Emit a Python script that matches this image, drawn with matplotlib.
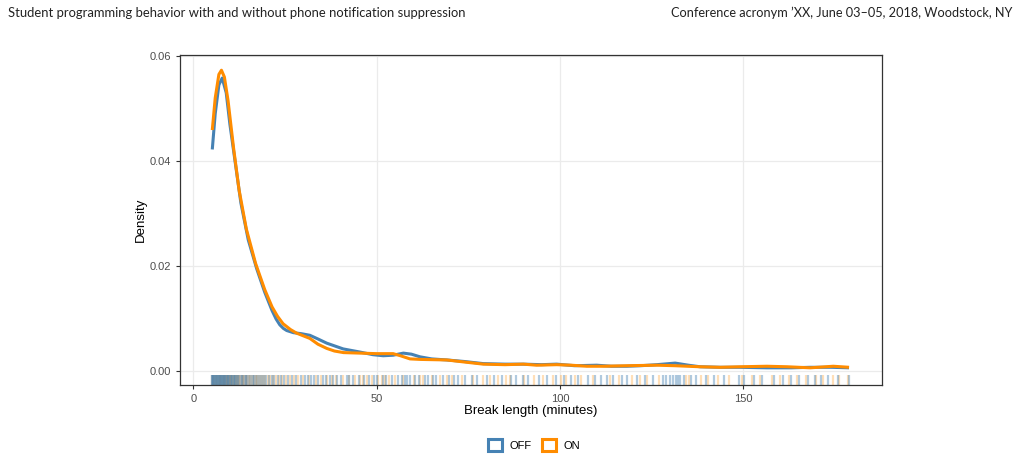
#Density of break lengths with and without phone notification suppression.
import matplotlib
matplotlib.use('Agg')
import matplotlib.pyplot as plt
import matplotlib.transforms as mtransforms
from matplotlib.patches import Patch


# density curves (minutes, density)
off_x = [5.2, 6.0, 7.0, 7.9, 9.0, 10.0, 11.4, 13.0, 15.0, 17.3, 19.5, 21.5, 22.6, 23.6, 24.6,
         25.5, 27.3, 29.5, 31.8, 34.0, 36.4, 40.9, 45.5, 49.0, 51.8, 54.5, 57.3, 59.5, 61.8,
         65.0, 69.1, 74.0, 79.1, 85.0, 90.0, 95.0, 99.1, 104.0, 110.0, 114.0, 118.2, 122.0,
         126.4, 131.4, 135.0, 138.2, 143.7, 149.0, 156.4, 163.0, 168.2, 174.0, 178.8]
off_y = [0.0422, 0.0490, 0.0545, 0.0558, 0.0530, 0.0470, 0.0400, 0.0320, 0.0250, 0.0195,
         0.0150, 0.0115, 0.0099, 0.0088, 0.0081, 0.0077, 0.0073, 0.0071, 0.0068, 0.0061,
         0.0053, 0.0042, 0.0036, 0.0031, 0.0029, 0.0030, 0.0034, 0.0032, 0.0027, 0.0023,
         0.0021, 0.0018, 0.0014, 0.0013, 0.0013, 0.0012, 0.0013, 0.0010, 0.0011, 0.0009,
         0.0009, 0.0010, 0.0012, 0.0015, 0.0011, 0.0008, 0.0007, 0.0007, 0.0006, 0.0006,
         0.0007, 0.0007, 0.0006]

on_x = [5.2, 6.0, 7.0, 7.7, 8.5, 9.5, 11.0, 12.5, 14.5, 17.0, 19.5, 21.5, 23.0, 24.5, 26.5,
        28.2, 31.8, 34.0, 36.4, 38.5, 41.0, 45.5, 50.0, 54.5, 56.5, 59.1, 62.0, 69.1, 74.0,
        79.1, 85.0, 90.0, 93.6, 99.1, 103.0, 107.3, 112.0, 118.2, 126.4, 131.4, 138.2,
        143.7, 149.0, 156.4, 162.0, 168.2, 174.5, 178.8]
on_y = [0.0459, 0.0520, 0.0565, 0.0573, 0.0560, 0.0515, 0.0425, 0.0345, 0.0270, 0.0205,
        0.0155, 0.0122, 0.0104, 0.0090, 0.0079, 0.0072, 0.0062, 0.0051, 0.0043, 0.0038,
        0.0035, 0.0034, 0.0033, 0.0033, 0.0029, 0.0023, 0.0022, 0.0021, 0.0017, 0.0013,
        0.0012, 0.0013, 0.0011, 0.0012, 0.0011, 0.0009, 0.0009, 0.0010, 0.0011, 0.0010,
        0.0008, 0.0007, 0.0008, 0.0009, 0.0008, 0.0006, 0.0009, 0.0007]

# rug: individual break lengths (minutes)
off_breaks = [5.0, 5.2, 5.4, 5.5, 5.7, 5.9, 6.0, 6.2, 6.4, 6.6, 6.8, 7.0, 7.1, 7.3, 7.5, 7.7,
              7.9, 8.0, 8.2, 8.4, 8.6, 8.8, 9.0, 9.2, 9.4, 9.6, 9.8, 10.0, 10.2, 10.5, 10.7,
              11.0, 11.2, 11.5, 11.8, 12.0, 12.3, 12.6, 13.0, 13.3, 13.6, 14.0, 14.4, 14.8,
              15.3, 15.8, 16.2, 16.7, 17.1, 17.6, 18.2, 18.7, 19.3, 19.9, 20.6, 21.4, 22.1,
              23.0, 23.8, 24.7, 25.9, 26.8, 28.1, 29.5, 30.4, 31.2, 32.0, 32.9, 34.1, 35.5,
              36.3, 37.2, 38.0, 39.1, 40.3, 41.8, 42.6, 43.5, 45.1, 46.6, 47.9, 49.3, 50.2,
              51.7, 52.6, 54.1, 55.7, 56.9, 57.8, 58.4, 59.1, 60.4, 61.5, 63.2, 64.0, 65.3,
              66.2, 68.0, 69.8, 71.1, 72.3, 74.1, 75.9, 77.5, 80.2, 81.9, 84.2, 86.7, 88.0,
              89.9, 91.4, 94.3, 96.5, 99.0, 101.2, 103.1, 105.0, 107.7, 109.6, 111.2, 112.8,
              114.5, 116.9, 118.3, 121.0, 123.1, 125.4, 128.2, 129.0, 130.1, 130.8, 131.5,
              132.1, 132.6, 133.8, 135.6, 137.1, 139.7, 142.0, 144.8, 148.7, 150.3, 152.9,
              155.2, 158.3, 160.8, 163.0, 165.1, 167.7, 169.4, 171.2, 173.0, 175.9, 178.8]
on_breaks = [5.1, 5.3, 5.6, 5.8, 6.1, 6.3, 6.5, 6.7, 6.9, 7.2, 7.4, 7.6, 7.8, 8.1, 8.3, 8.5,
             8.7, 8.9, 9.1, 9.3, 9.5, 9.7, 9.9, 10.1, 10.4, 10.6, 10.9, 11.1, 11.4, 11.7, 11.9,
             12.2, 12.5, 12.8, 13.2, 13.5, 13.9, 14.3, 14.7, 15.1, 15.6, 16.0, 16.5, 17.0,
             17.4, 18.0, 18.5, 19.1, 19.7, 20.3, 21.0, 21.8, 22.6, 23.4, 24.3, 25.2, 26.3,
             27.5, 28.7, 30.0, 31.6, 33.4, 34.8, 36.6, 37.9, 38.9, 40.8, 42.4, 44.0, 45.4,
             46.3, 47.5, 48.8, 50.5, 51.4, 52.2, 53.5, 54.9, 57.1, 60.3, 61.9, 62.7, 65.0,
             67.4, 69.1, 70.6, 73.2, 76.4, 79.0, 80.9, 83.1, 85.2, 86.5, 90.1, 92.8, 95.5,
             98.1, 100.4, 101.7, 104.2, 105.6, 109.0, 113.7, 116.2, 119.6, 121.9, 123.8,
             127.0, 134.4, 135.3, 138.5, 140.4, 143.2, 146.1, 149.5, 152.4, 154.6, 157.9,
             160.1, 162.5, 164.7, 167.0, 169.9, 171.8, 174.3, 176.0, 178.5]

off_color = '#4682B4'
on_color = '#FF8C00'

plt.rcParams['font.family'] = ['Liberation Sans', 'DejaVu Sans']

fig = plt.figure(figsize=(10.21, 4.62), dpi=100)
ax = fig.add_axes([0.1763, 0.1667, 0.6876, 0.7143])

ax.grid(True, color='#EBEBEB', linewidth=0.9)
ax.set_axisbelow(True)

# rug along the bottom of the panel
trans = mtransforms.blended_transform_factory(ax.transData, ax.transAxes)
ax.vlines(on_breaks, 0, 0.03, transform=trans, color=on_color, alpha=0.28, linewidth=1.6)
ax.vlines(off_breaks, 0, 0.03, transform=trans, color=off_color, alpha=0.42, linewidth=1.6)

ax.plot(off_x, off_y, color=off_color, linewidth=2.2, solid_capstyle='butt')
ax.plot(on_x, on_y, color=on_color, linewidth=2.2, solid_capstyle='butt')

ax.set_xlim(-3.6, 187.8)
ax.set_ylim(-0.00267, 0.0602)
ax.set_xticks([0, 50, 100, 150])
ax.set_yticks([0.0, 0.02, 0.04, 0.06])
ax.set_yticklabels(['0.00', '0.02', '0.04', '0.06'])
ax.tick_params(colors='#333333', labelcolor='#4D4D4D', labelsize=8, length=3, width=0.8)

for s in ax.spines.values():
    s.set_color('#333333')
    s.set_linewidth(0.9)

ax.set_xlabel('Break length (minutes)', fontsize=9.5, labelpad=1)
ax.set_ylabel('Density', fontsize=9.5, labelpad=2)

handles = [Patch(facecolor='white', edgecolor=off_color, linewidth=2.2, label='OFF'),
           Patch(facecolor='white', edgecolor=on_color, linewidth=2.2, label='ON')]
fig.legend(handles=handles, loc='center', bbox_to_anchor=(0.523, 0.036), ncol=2,
           frameon=False, fontsize=8, handlelength=1.25, handleheight=1.25,
           handletextpad=0.7, columnspacing=0.9)

fig.text(0.008, 0.972, 'Student programming behavior with and without phone notification suppression',
         fontsize=9.4, family=['Lato', 'DejaVu Sans'], ha='left', va='center', color='#222222')
fig.text(0.992, 0.972, 'Conference acronym \u2019XX, June 03\u201305, 2018, Woodstock, NY',
         fontsize=9.2, family=['Lato', 'DejaVu Sans'], ha='right', va='center', color='#222222')

plt.savefig('out.png', dpi=100)
